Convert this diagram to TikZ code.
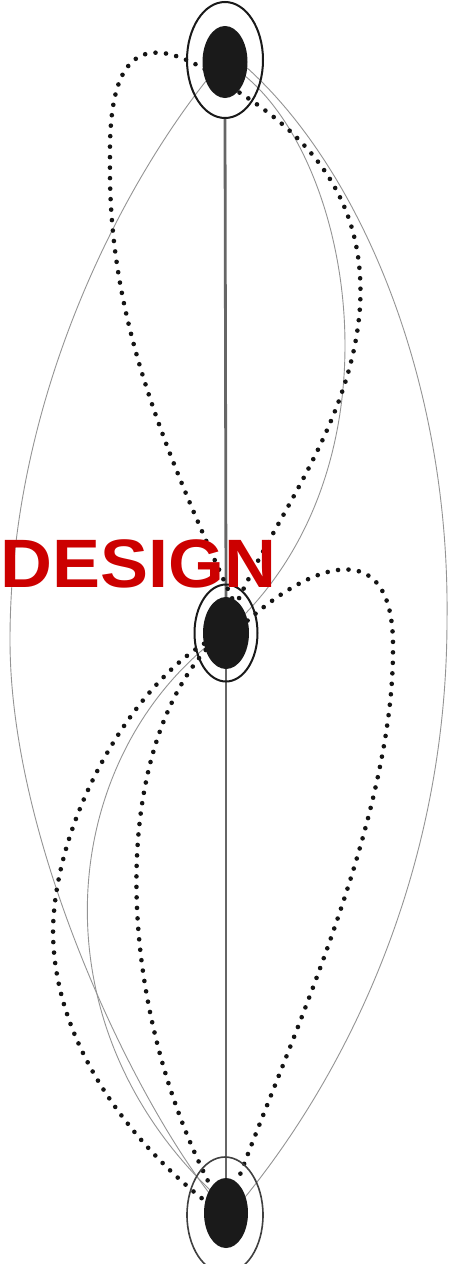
\documentclass[tikz,border=0pt]{standalone}
\usepackage{fontspec}
\newfontfamily\dfont[FakeStretch=1.05]{Liberation Sans}
\usetikzlibrary{shapes.geometric}
\definecolor{designred}{RGB}{204,0,0}
\definecolor{inkfill}{RGB}{26,26,26}
\pgfdeclarelayer{bg0}
\pgfdeclarelayer{background}
\pgfsetlayers{bg0,background,main}
\tikzset{
  ring/.style={ellipse, draw=black!90, line width=2pt, inner sep=0pt, outer sep=0pt},
  core/.style={ellipse, fill=inkfill, draw=none, inner sep=0pt, outer sep=0pt},
  dotline/.style={line width=4.6pt, line cap=round, dash pattern=on 0pt off 10.5pt, black!92},
  fineline/.style={line width=0.9pt, black!42},
  vline/.style={line width=2.8pt, black!60}
}
\begin{document}
\begin{tikzpicture}[x=1pt,y=-1pt]
\begin{pgfonlayer}{bg0}
\fill[white] (0,0) rectangle (452,1264);
\end{pgfonlayer}
\clip (0,0) rectangle (452,1264);
\useasboundingbox (0,0) rectangle (452,1264);
% nodes
\node[ring, minimum width=76pt, minimum height=116pt] (T) at (225,60) {};
\node[core, minimum width=45pt, minimum height=72pt] (Ti) at (225,62) {};
\node[ring, minimum width=63pt, minimum height=97pt] (M) at (226,633) {};
\node[core, minimum width=46pt, minimum height=72pt] (Mi) at (226,633) {};
\node[ring, draw=black!75, line width=1.6pt, minimum width=76pt, minimum height=116pt] (B) at (225,1215) {};
\node[core, minimum width=44pt, minimum height=70pt] (Bi) at (226,1213) {};
\begin{pgfonlayer}{background}
% vertical connector
\draw[vline] (T.south) -- (Mi.north);
\draw[vline] (Mi.south) -- (Bi.north);
% fine grey curves
\draw[fineline] (Ti.-135) .. controls (120,190) and (10,400) .. (10,640)
  .. controls (10,840) and (130,1090) .. (Bi.130);
\draw[fineline] (Ti.-15) .. controls (360,170) and (450,380) .. (447,620)
  .. controls (447,880) and (340,1080) .. (Bi.40);
\draw[fineline] (Ti.-35) .. controls (352,165) and (402,450) .. (Mi.45);
\draw[fineline] (Mi.-145) .. controls (60,770) and (35,1020) .. (Bi.125);
% heavy dotted curves
\draw[dotline] (Mi.80) .. controls (150,420) and (108,300) .. (110,160)
  .. controls (108,40) and (150,25) .. (240,93)
  .. controls (330,150) and (365,220) .. (360,307)
  .. controls (352,420) and (280,510) .. (Mi.70);
\draw[dotline] (Mi.30) .. controls (310,565) and (395,530) .. (393,650)
  .. controls (393,820) and (290,1040) .. (Bi.70);
\draw[dotline] (Mi.-154) .. controls (130,690) and (55,820) .. (53,930)
  .. controls (53,1050) and (140,1150) .. (Bi.150);
\draw[dotline] (Mi.-140) .. controls (110,760) and (115,1000) .. (Bi.120);
\end{pgfonlayer}
% label
\node[anchor=base west, inner sep=0pt, text=designred,
  font=\dfont\bfseries\fontsize{68.5}{68.5}\selectfont] (D) at (0,587) {DESIGN};
\end{tikzpicture}
\end{document}
